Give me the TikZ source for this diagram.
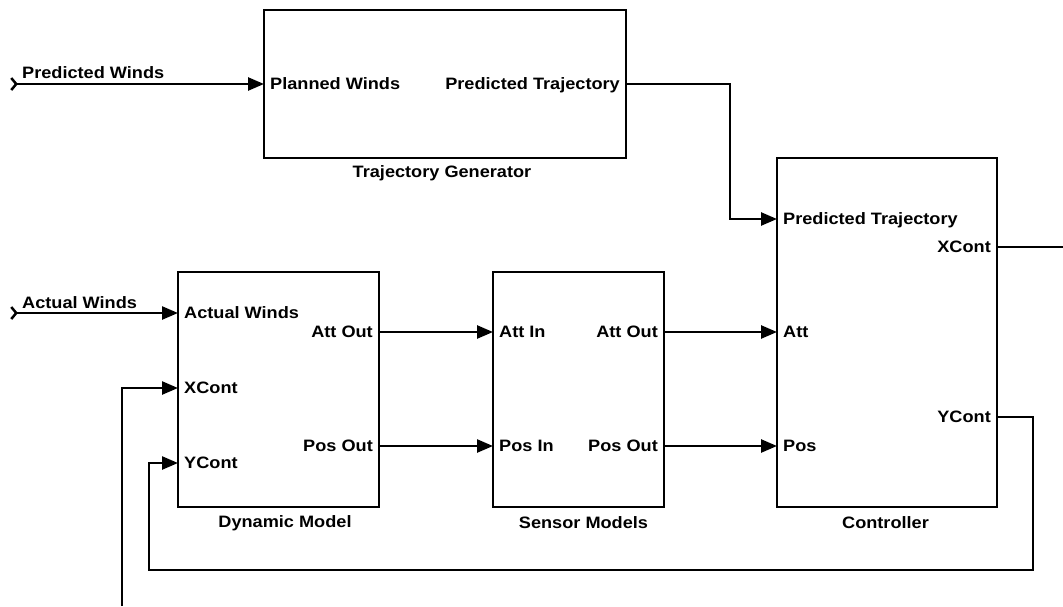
\documentclass[tikz,border=0pt]{standalone}
\usepackage{fontspec}
\setmainfont{Liberation Sans}[FakeStretch=1.1]
\usetikzlibrary{arrows.meta}
\begin{document}
\begin{tikzpicture}[x=1pt,y=-1pt,
 box/.style={draw,line width=2.6pt,inner sep=0pt},
 lbl/.style={font=\bfseries\fontsize{16.5}{18}\selectfont,inner sep=0pt},
 pin/.style={lbl,anchor=west,inner xsep=6pt,text height=11.8pt,text depth=0pt},
 pout/.style={lbl,anchor=east,inner xsep=6pt,text height=11.8pt,text depth=0pt},
 wire/.style={line width=2.5pt},
 arr/.style={wire,-{Triangle[length=16pt,width=13pt]}},
 src/.style={wire,{Straight Barb[reversed,length=5pt,width=12pt]}-{Triangle[length=16pt,width=13pt]}}]
\useasboundingbox (0,0) rectangle (1063,606);

% boxes
\node[box,minimum width=362pt,minimum height=148pt] (tg) at (445,84) {};
\node[box,minimum width=201pt,minimum height=235pt] (dm) at (278.5,389.5) {};
\node[box,minimum width=171pt,minimum height=235pt] (sm) at (578.5,389.5) {};
\node[box,minimum width=220pt,minimum height=349pt] (ct) at (887,332.5) {};

% block titles
\node[lbl,anchor=base] (tgt) at (442,177) {Trajectory Generator};
\node[lbl,anchor=base] (dmt) at (285,527) {Dynamic Model};
\node[lbl,anchor=base] (smt) at (583.5,528) {Sensor Models};
\node[lbl,anchor=base] (ctt) at (885.5,528) {Controller};

% ports
\node[pin] (tg-pw) at (264,84) {Planned Winds};
\node[pout] (tg-pt) at (626,84) {Predicted Trajectory};
\node[pin] (dm-aw) at (178,313) {Actual Winds};
\node[pin] (dm-xc) at (178,388) {XCont};
\node[pin] (dm-yc) at (178,463) {YCont};
\node[pout] (dm-ao) at (379,332) {Att Out};
\node[pout] (dm-po) at (379,446) {Pos Out};
\node[pin] (sm-ai) at (493,332) {Att In};
\node[pin] (sm-pi) at (493,446) {Pos In};
\node[pout] (sm-ao) at (664,332) {Att Out};
\node[pout] (sm-po) at (664,446) {Pos Out};
\node[pin] (ct-pt) at (777,219) {Predicted Trajectory};
\node[pin] (ct-at) at (777,332) {Att};
\node[pin] (ct-ps) at (777,446) {Pos};
\node[pout] (ct-xc) at (997,247) {XCont};
\node[pout] (ct-yc) at (997,417) {YCont};

% external inputs
\coordinate (pwin) at (10,84);
\coordinate (awin) at (10,313);
\node[lbl,anchor=base west] (pwl) at (22,78) {Predicted Winds};
\node[lbl,anchor=base west] (awl) at (22,308) {Actual Winds};
\draw[src] (pwin) -- (tg-pw.west);
\draw[src] (awin) -- (dm-aw.west);

% internal wiring
\coordinate (b1) at (730,0);
\draw[arr] (tg-pt.east) -- (tg-pt.east -| b1) |- (ct-pt.west);
\draw[arr] (dm-ao.east) -- (sm-ai.west);
\draw[arr] (dm-po.east) -- (sm-pi.west);
\draw[arr] (sm-ao.east) -- (ct-at.west);
\draw[arr] (sm-po.east) -- (ct-ps.west);

% controller outputs
\coordinate (xout) at (1063,247);
\draw[wire] (ct-xc.east) -- (xout);
\coordinate (fbR) at (1033,570);
\coordinate (fbL) at (149,570);
\draw[arr] (ct-yc.east) -| (fbR) -- (fbL) |- (dm-yc.west);
\coordinate (xin) at (122,606);
\draw[arr] (xin) |- (dm-xc.west);
\end{tikzpicture}
\end{document}
